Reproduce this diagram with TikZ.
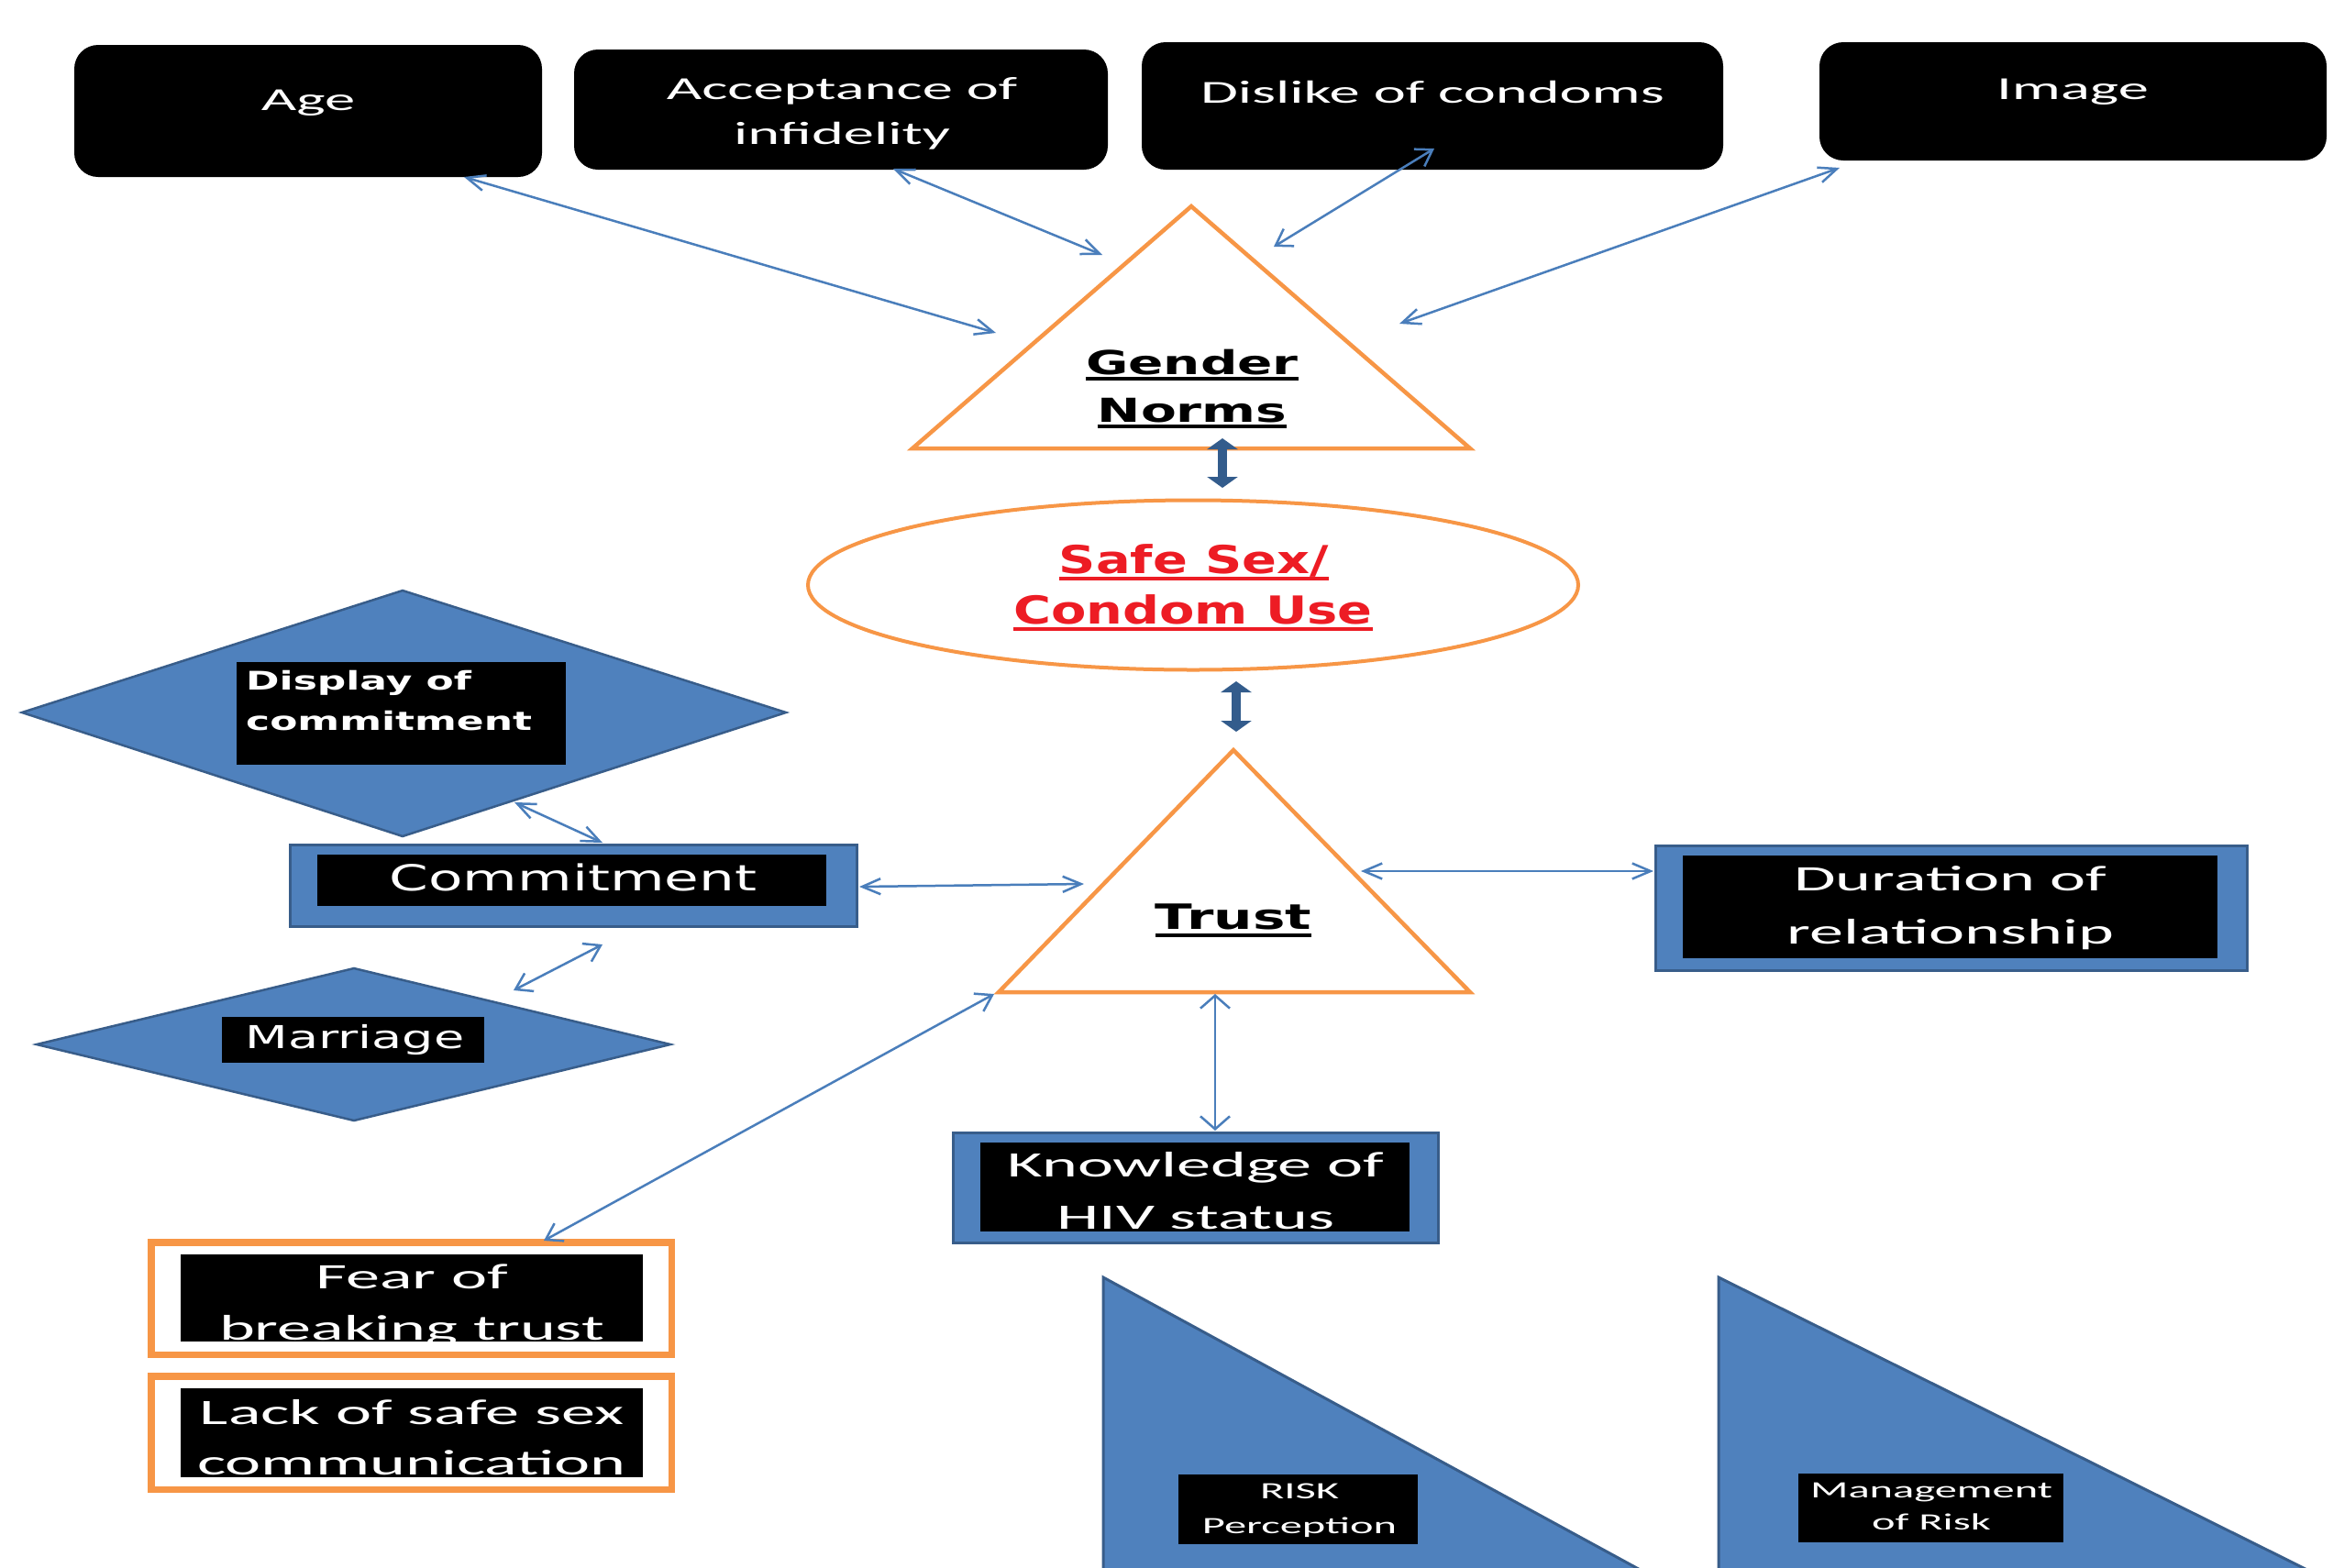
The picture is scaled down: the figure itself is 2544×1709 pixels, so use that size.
\documentclass[tikz,border=0pt]{standalone}
\usepackage{fontspec}
\usetikzlibrary{arrows.meta,shapes.geometric}
\newfontfamily\calf[FakeStretch=1.9]{Carlito}
\newfontfamily\dvf[FakeStretch=1.57]{DejaVu Sans}
\newfontfamily\dvsf[FakeStretch=1.33]{DejaVu Sans}
\definecolor{boxblue}{HTML}{4F81BD}
\definecolor{edgeblue}{HTML}{385D8A}
\definecolor{linkblue}{HTML}{4A7EBB}
\definecolor{fatblue}{HTML}{335C8C}
\definecolor{orng}{HTML}{F79646}
\definecolor{redtxt}{HTML}{ED1C24}
\begin{document}
\begin{tikzpicture}[x=1pt,y=-1pt,
  topbox/.style={fill=black, rounded corners=26pt, inner sep=0},
  inbox/.style={fill=black, inner sep=0},
  outbox/.style={fill=boxblue, draw=edgeblue, line width=3pt, inner sep=0},
  orbox/.style={fill=white, draw=orng, line width=5pt, inner sep=0},
  tri/.style={fill=white, draw=orng, line width=4.5pt},
  dia/.style={fill=boxblue, draw=edgeblue, line width=2.5pt},
  risktri/.style={fill=boxblue, draw=edgeblue, line width=3pt},
  txt/.style={inner sep=0, anchor=base, text=white},
  ul/.style={line width=3.2pt},
  linkH/.style={draw=linkblue, line width=2.5pt, >={Straight Barb[length=20pt,width=17pt]}, <->},
  linkD/.style={draw=linkblue, line width=2.5pt, >={Straight Barb[length=17pt,width=22pt]}, <->},
  linkV/.style={draw=linkblue, line width=2.5pt, >={Straight Barb[length=14pt,width=32pt]}, <->},
  fat/.style={draw=fatblue, line width=10pt, >={Triangle[length=12pt,width=33pt]}, <->},
  topfont/.style={font=\calf\fontsize{35}{42}\selectfont},
  midfont/.style={font=\calf\fontsize{39}{46}\selectfont},
  smallfont/.style={font=\calf\fontsize{25.5}{30}\selectfont}]
\useasboundingbox (0,0) rectangle (2544,1709);
\clip (0,0) rectangle (2544,1709);
\fill[white] (0,0) rectangle (2544,1709);

% ---------- top boxes ----------
\node[topbox, minimum width=510pt, minimum height=144pt] (age) at (336,121) {};
\node[topbox, minimum width=582pt, minimum height=131pt] (acc) at (917,119.5) {};
\node[topbox, minimum width=634pt, minimum height=139pt] (dis) at (1562,115.5) {};
\node[topbox, minimum width=553pt, minimum height=129pt] (img) at (2260.5,110.5) {};
\node[txt, topfont] (tage) at (336,120) {Age};
\node[txt, topfont] (tacc1) at (918,108) {Acceptance of};
\node[txt, topfont] (tacc2) at (918,157) {infidelity};
\node[txt, topfont] (tdis) at (1562,112) {Dislike of condoms};
\node[txt, topfont] (timg) at (2260,108) {Image};

% ---------- Gender norms triangle ----------
\coordinate (gnL) at (995,489);
\coordinate (gnR) at (1603,489);
\coordinate (gnT) at (1299,225);
\draw[tri] (gnL) -- (gnR) -- (gnT) -- cycle;
\node[txt, text=black, font=\dvf\bfseries\fontsize{36}{40}\selectfont] (tgn1) at (1300,408) {Gender};
\node[txt, text=black, font=\dvf\bfseries\fontsize{36}{40}\selectfont] (tgn2) at (1300,460) {Norms};
\draw[ul] ([yshift=-5pt]tgn1.base west) -- ([yshift=-5pt]tgn1.base east);
\draw[ul] ([yshift=-5pt]tgn2.base west) -- ([yshift=-5pt]tgn2.base east);

% ---------- Safe sex ellipse ----------
\node[draw=orng, line width=4pt, ellipse, minimum width=840pt, minimum height=185pt, inner sep=0] (safe) at (1301,638) {};
\node[txt, text=redtxt, font=\dvsf\bfseries\fontsize{42}{48}\selectfont] (tss1) at (1302,625) {Safe Sex/};
\node[txt, text=redtxt, font=\dvsf\bfseries\fontsize{42}{48}\selectfont] (tss2) at (1301,680) {Condom Use};
\draw[ul, redtxt] ([yshift=-6pt]tss1.base west) -- ([yshift=-6pt]tss1.base east);
\draw[ul, redtxt] ([yshift=-6pt]tss2.base west) -- ([yshift=-6pt]tss2.base east);

% ---------- Trust triangle ----------
\coordinate (trL) at (1089,1082);
\coordinate (trR) at (1603,1082);
\coordinate (trT) at (1345,818);
\draw[tri] (trL) -- (trR) -- (trT) -- cycle;
\node[txt, text=black, font=\dvf\bfseries\fontsize{38}{44}\selectfont] (ttr) at (1345,1013) {Trust};
\draw[ul] ([yshift=-7pt]ttr.base west) -- ([yshift=-7pt]ttr.base east);

% ---------- Display of commitment diamond ----------
\coordinate (dpL) at (24,777);
\coordinate (dpT) at (439,644);
\coordinate (dpR) at (857,777);
\coordinate (dpB) at (439,912);
\draw[dia] (dpL) -- (dpT) -- (dpR) -- (dpB) -- cycle;
\node[inbox, minimum width=359pt, minimum height=112pt] (dispin) at (437.5,778) {};
\node[txt, anchor=base west, font=\dvf\bfseries\fontsize{28}{32}\selectfont] (tdp1) at (268,752) {Display of};
\node[txt, anchor=base west, font=\dvf\bfseries\fontsize{28}{32}\selectfont] (tdp2) at (268,796) {commitment};

% ---------- Commitment box ----------
\node[outbox, minimum width=618pt, minimum height=89pt] (comm) at (625,965.5) {};
\node[inbox, minimum width=555pt, minimum height=56pt] (commin) at (623.5,960) {};
\node[txt, font=\dvf\fontsize{39}{44}\selectfont] (tcm) at (625,971) {Commitment};

% ---------- Marriage diamond ----------
\coordinate (mrL) at (40,1139);
\coordinate (mrT) at (386,1056);
\coordinate (mrR) at (731,1139);
\coordinate (mrB) at (386,1222);
\draw[dia] (mrL) -- (mrT) -- (mrR) -- (mrB) -- cycle;
\node[inbox, minimum width=286pt, minimum height=50pt] (marin) at (385,1134) {};
\node[txt, font=\dvf\fontsize{34.4}{40}\selectfont] (tmr) at (387,1143) {Marriage};

% ---------- Duration box ----------
\node[outbox, minimum width=645pt, minimum height=136pt] (dur) at (2127.5,990) {};
\node[inbox, minimum width=583pt, minimum height=112pt] (durin) at (2126.5,989) {};
\node[txt, midfont] (tdu1) at (2127,971) {Duration of};
\node[txt, midfont] (tdu2) at (2127,1029) {relationship};

% ---------- Knowledge box ----------
\node[outbox, minimum width=529pt, minimum height=120pt] (know) at (1303.5,1295) {};
\node[inbox, minimum width=468pt, minimum height=97pt] (knowin) at (1303,1294.5) {};
\node[txt, midfont] (tkn1) at (1304,1283) {Knowledge of};
\node[txt, midfont] (tkn2) at (1304,1340) {HIV status};

% ---------- Fear / Lack boxes ----------
\node[orbox, minimum width=565pt, minimum height=120pt] (fear) at (448.5,1416) {};
\node[inbox, minimum width=504pt, minimum height=95pt] (fearin) at (449,1415.5) {};
\node[txt, midfont] (tfe1) at (449,1405) {Fear of};
\node[txt, midfont] (tfe2) at (449,1461) {breaking trust};
\node[orbox, minimum width=565pt, minimum height=121pt] (lack) at (448.5,1562.5) {};
\node[inbox, minimum width=504pt, minimum height=97pt] (lackin) at (449,1562.5) {};
\node[txt, midfont] (tla1) at (449,1553) {Lack of safe sex};
\node[txt, midfont] (tla2) at (449,1608) {communication};
% re-draw orange frames over white descenders
\draw[draw=orng, line width=5pt] (fear.north west) rectangle (fear.south east);
\draw[draw=orng, line width=5pt] (lack.north west) rectangle (lack.south east);

% ---------- Risk triangles ----------
\coordinate (rkT) at (1203,1393);
\coordinate (rkB) at (1203,1800);
\coordinate (rkR) at (1950,1800);
\draw[risktri] (rkT) -- (rkR) -- (rkB) -- cycle;
\node[inbox, minimum width=261pt, minimum height=76pt] (riskin) at (1415.5,1646) {};
\node[txt, smallfont] (trk1) at (1417,1634) {RISK};
\node[txt, smallfont] (trk2) at (1417,1672) {Perception};
\coordinate (mgT) at (1874,1393);
\coordinate (mgB) at (1874,1800);
\coordinate (mgR) at (2693,1800);
\draw[risktri] (mgT) -- (mgR) -- (mgB) -- cycle;
\node[inbox, minimum width=289pt, minimum height=75pt] (mgmtin) at (2105.5,1644.5) {};
\node[txt, smallfont] (tmg1) at (2106,1633) {Management};
\node[txt, smallfont] (tmg2) at (2106,1668) {of Risk};

% ---------- connector end points ----------
\coordinate (ageE) at (506,193);   \coordinate (gnE1) at (1086,363);
\coordinate (accE) at (974,184);   \coordinate (gnE2) at (1202,278);
\coordinate (disE) at (1564,162);  \coordinate (gnE3) at (1389,269);
\coordinate (imgE) at (2006,183);  \coordinate (gnE4) at (1526,353);
\coordinate (dpE)  at (561,875);   \coordinate (cmE1) at (657,919);
\coordinate (cmE2) at (657,1030);  \coordinate (mrE)  at (560,1080);
\coordinate (cmE3) at (937,967);   \coordinate (trE1) at (1182,964);
\coordinate (trE2) at (1484,950);  \coordinate (duE)  at (1803,950);
\coordinate (trE3) at (1325,1084); \coordinate (knE)  at (1325,1233);
\coordinate (feE)  at (593,1353);  \coordinate (trE4) at (1084,1084);
\coordinate (fatA1) at (1333,478); \coordinate (fatA2) at (1333,532);
\coordinate (fatB1) at (1348,743); \coordinate (fatB2) at (1348,798);

% ---------- connectors ----------
\draw[linkH] (ageE) -- (gnE1);
\draw[linkH] (accE) -- (gnE2);
\draw[linkD] (disE) -- (gnE3);
\draw[linkH] (imgE) -- (gnE4);
\draw[linkH] (dpE) -- (cmE1);
\draw[linkD] (cmE2) -- (mrE);
\draw[linkH] (cmE3) -- (trE1);
\draw[linkH] (trE2) -- (duE);
\draw[linkV] (trE3) -- (knE);
\draw[linkD] (feE) -- (trE4);
\draw[fat] (fatA1) -- (fatA2);
\draw[fat] (fatB1) -- (fatB2);
\end{tikzpicture}
\end{document}
